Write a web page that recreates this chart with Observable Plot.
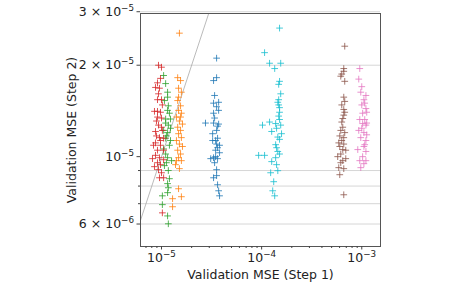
<!DOCTYPE html>
<html>
<head>
<meta charset="utf-8">
<script src="https://cdn.jsdelivr.net/npm/d3@7"></script>
<script src="https://cdn.jsdelivr.net/npm/@observablehq/plot@0.6"></script>
<style>
  html, body { margin: 0; padding: 0; background: white; }
</style>
</head>
<body>
<div id="chart"></div>
<script>
// Values in units of 1e-5: [Validation MSE Step 1, Validation MSE Step 2]
const unit = 1e-5;

const bluePoints = [
  [3.55,2.11],[3.31,1.78],[3.55,1.82],[3.72,1.51],[3.31,1.50],[3.55,1.46],[3.31,1.39],[2.75,1.29],
  [3.31,1.29],[3.72,1.28],[3.55,1.22],[3.24,1.19],[3.63,1.15],[3.47,1.13],[3.63,1.07],[3.47,1.05],
  [3.80,1.09],[3.55,1.10],[3.31,0.992],[3.63,0.985],[3.47,1.00],[3.55,0.906],[3.31,0.852],[3.55,0.866],
  [3.63,0.808],[3.72,0.772],[3.80,0.743],[3.39,1.34],[3.72,1.42],[3.39,1.59],[3.63,1.26],[3.24,1.13],
  [3.80,1.03],[3.39,0.955],[3.10,0.985]
];
const orangePoints = [
  [1.51,2.55],[1.45,1.82],[1.55,1.78],[1.48,1.68],[1.58,1.63],[1.45,1.53],[1.55,1.47],[1.48,1.42],
  [1.58,1.39],[1.41,1.35],[1.51,1.31],[1.62,1.28],[1.45,1.25],[1.55,1.22],[1.48,1.19],[1.58,1.155],
  [1.41,1.13],[1.51,1.10],[1.62,1.08],[1.45,1.05],[1.55,1.02],[1.48,0.992],[1.58,0.97],[1.38,0.941],
  [1.51,0.913],[1.48,0.784],[1.58,0.738],[1.29,0.727],[1.29,0.684],[1.41,0.97],[1.55,1.35],[1.48,1.57]
];
const greenPoints = [
  [1.05,1.85],[1.10,1.74],[1.15,1.63],[1.15,1.57],[1.17,1.47],[1.15,1.42],[1.20,1.39],[1.10,1.33],
  [1.10,1.29],[1.23,1.24],[1.17,1.27],[1.15,1.20],[1.10,1.15],[1.23,1.13],[1.05,1.06],[1.10,1.02],
  [1.15,0.992],[1.20,1.09],[1.12,0.955],[1.17,0.90],[1.20,0.846],[1.15,0.815],[1.15,0.761],[1.02,0.743],
  [1.02,0.695],[1.15,0.638],[1.17,0.601],[1.07,1.53],[1.23,1.33],[1.12,1.17],[1.26,0.97],[1.07,0.934],
  [1.17,0.79],[1.05,1.22]
];
const redPoints = [
  [0.933,2.00],[1.00,1.97],[0.912,1.75],[0.871,1.69],[0.955,1.68],[1.00,1.54],[0.912,1.54],[0.912,1.41],
  [0.977,1.40],[0.851,1.41],[0.912,1.35],[1.00,1.34],[0.933,1.27],[1.00,1.25],[0.871,1.21],[1.02,1.22],
  [0.955,1.155],[1.05,1.15],[0.871,1.11],[0.977,1.09],[0.912,1.05],[0.813,0.985],[0.955,0.992],[1.05,0.977],
  [0.871,1.01],[0.912,0.955],[0.977,0.941],[0.933,0.906],[0.851,0.927],[0.955,0.852],[1.05,0.852],[1.02,0.653],
  [0.977,1.13],[0.891,1.31],[1.02,1.48],[0.933,1.61],[0.977,1.81],[0.891,1.17],[1.05,1.05],[1.00,0.885],
  [0.832,1.09]
];
const brownPoints = [
  [67.6,2.31],[66.1,1.95],[66.1,1.91],[63.1,1.87],[61.7,1.84],[67.6,1.77],[66.1,1.57],[67.6,1.52],
  [66.1,1.43],[66.1,1.37],[64.6,1.335],[64.6,1.25],[61.7,1.22],[67.6,1.20],[60.3,1.17],[66.1,1.155],
  [58.9,1.11],[63.1,1.13],[60.3,1.08],[64.6,1.055],[69.2,1.05],[61.7,1.02],[69.2,0.985],[61.7,0.955],
  [58.9,0.92],[66.1,0.913],[60.3,0.872],[66.1,0.749],[63.1,1.30],[66.1,1.10],[57.5,1.00],[67.6,1.40],
  [63.1,1.48],[64.6,0.97]
];
const pinkPoints = [
  [95.5,1.95],[93.3,1.80],[100,1.70],[97.7,1.63],[110,1.59],[105,1.54],[107,1.50],[110,1.44],
  [102,1.39],[95.5,1.325],[107,1.325],[102,1.285],[110,1.27],[100,1.24],[105,1.20],[112,1.18],
  [97.7,1.155],[110,1.13],[91.2,1.055],[105,1.08],[110,1.04],[95.5,0.97],[110,0.97],[102,1.00],
  [97.7,0.92],[105,0.948],[112,1.29],[100,1.48],[107,1.095],[93.3,1.22],[112,1.40]
];
const cyanPoints = [
  [15.1,2.65],[10.7,2.20],[12.0,2.03],[15.5,2.03],[13.5,1.95],[15.1,1.77],[14.8,1.73],[14.8,1.54],
  [14.5,1.51],[15.1,1.45],[15.1,1.40],[14.8,1.36],[15.1,1.325],[12.0,1.30],[13.8,1.285],[10.2,1.27],
  [15.5,1.27],[14.1,1.24],[12.6,1.21],[14.5,1.16],[15.1,1.14],[13.8,1.095],[14.5,1.04],[15.1,1.02],
  [9.33,1.01],[10.7,1.01],[13.8,0.992],[12.6,0.963],[14.1,0.941],[12.3,0.885],[14.5,0.899],[13.2,0.827],
  [12.9,0.772],[13.5,0.743],[15.5,1.61],[14.8,1.48],[14.1,1.07],[15.8,1.19]
];

const seriesColors = ["#1f77b4", "#ff7f0e", "#2ca02c", "#d62728", "#8c564b", "#e377c2", "#17becf"];
const seriesPoints = [bluePoints, orangePoints, greenPoints, redPoints, brownPoints, pinkPoints, cyanPoints];

const xDomain = [6.17e-6, 1.538e-3];
const yDomain = [5.06e-6, 2.96e-5];
const xMajorTicks = [1e-5, 1e-4, 1e-3];
const xMajorLabels = ["10^−5", "10^−4", "10^−3"];
const xMinorTicks = [7e-6, 8e-6, 9e-6, 2e-5, 3e-5, 4e-5, 5e-5, 6e-5, 7e-5, 8e-5, 9e-5,
                     2e-4, 3e-4, 4e-4, 5e-4, 6e-4, 7e-4, 8e-4, 9e-4];
const yLabeledTicks = [6e-6, 1e-5, 2e-5, 3e-5];
const yLabels = ["6 × 10^−6", "10^−5", "2 × 10^−5", "3 × 10^−5"];
const yMinorTicks = [7e-6, 8e-6, 9e-6];
const yGrid = [6e-6, 7e-6, 8e-6, 9e-6, 2e-5, 3e-5];
const identityLine = [5e-6, 3e-5];

const points = seriesPoints.flatMap((pts, k) =>
  pts.map(([a, b]) => ({x: a * unit, y: b * unit, c: seriesColors[k]})));

const fmt = (ticks, labels) => (v) => labels[ticks.findIndex(t => Math.abs(t - v) / t < 1e-6)] ?? "";

const chart = Plot.plot({
  width: 464,
  height: 288,
  marginLeft: 140,
  marginRight: 84,
  marginTop: 13,
  marginBottom: 42,
  x: {type: "log", domain: xDomain},
  y: {type: "log", domain: yDomain},
  color: {type: "identity"},
  style: {fontFamily: "DejaVu Sans", fontSize: "12.5px", color: "#222", background: "white"},
  marks: [
    Plot.ruleY(yGrid, {stroke: "#d6d6d6", strokeWidth: 1}),
    Plot.line(identityLine, {x: d => d, y: d => d, stroke: "#a8a8a8", strokeWidth: 0.8, clip: true}),
    Plot.dot(points, {x: "x", y: "y", stroke: "c", symbol: "plus", r: 2.3, strokeWidth: 1, strokeOpacity: 0.8}),
    Plot.frame({stroke: "#555", strokeWidth: 1}),
    Plot.axisX(xMajorTicks, {tickSize: 3.5, tickPadding: 3, tickFormat: fmt(xMajorTicks, xMajorLabels), label: null, stroke: "#444", fontSize: 12.5}),
    Plot.axisX(xMinorTicks, {tickSize: 2, tickFormat: () => "", label: null, stroke: "#444"}),
    Plot.axisY(yLabeledTicks, {tickSize: 3.5, tickPadding: 3, tickFormat: fmt(yLabeledTicks, yLabels), label: null, stroke: "#444", fontSize: 12.5}),
    Plot.axisY(yMinorTicks, {tickSize: 2, tickFormat: () => "", label: null, stroke: "#444"}),
    Plot.text(["Validation MSE (Step 1)"], {frameAnchor: "bottom", dy: 32, text: d => d, textAnchor: "middle", fontSize: 12.5, fill: "#222"}),
    Plot.text(["Validation MSE (Step 2)"], {frameAnchor: "left", dx: -69, rotate: -90, text: d => d, textAnchor: "middle", fontSize: 12.5, fill: "#222"})
  ]
});

// Render "10^−5" style labels with a real superscript tspan
chart.querySelectorAll("text").forEach(t => {
  const s = t.textContent;
  const i = s.indexOf("^");
  if (i < 0) return;
  t.textContent = s.slice(0, i);
  const sup = document.createElementNS("http://www.w3.org/2000/svg", "tspan");
  sup.setAttribute("dy", "-0.55em");
  sup.setAttribute("font-size", "70%");
  sup.textContent = s.slice(i + 1);
  t.appendChild(sup);
});
document.getElementById("chart").appendChild(chart);
</script>
</body>
</html>
